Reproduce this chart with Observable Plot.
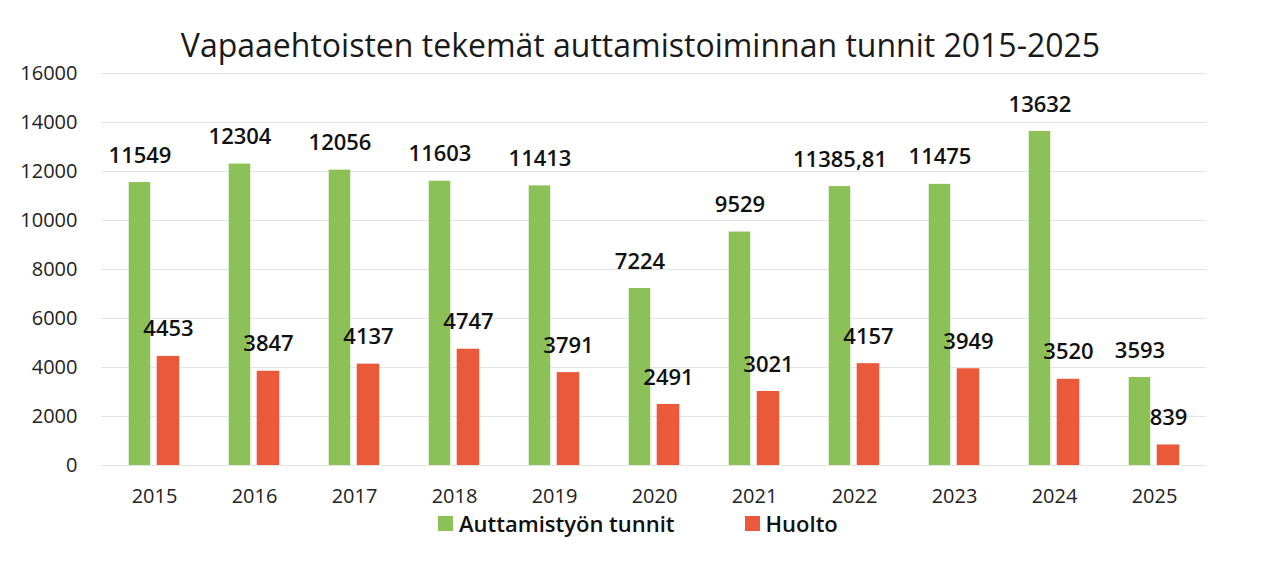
<!DOCTYPE html>
<html><head><meta charset="utf-8">
<script src="https://cdn.jsdelivr.net/npm/d3@7"></script>
<script src="https://cdn.jsdelivr.net/npm/@observablehq/plot@0.6"></script>
<style>
body{margin:0;background:#fff;font-family:"Open Sans",sans-serif;}
#wrap{width:1271px;height:563px;position:relative;overflow:hidden;background:#fff}
#title{position:absolute;left:5px;top:29px;width:1271px;text-align:center;font-size:32px;line-height:32px;color:#1a1a1a;white-space:nowrap}
#chart{position:absolute;left:0;top:52px}
#legend{position:absolute;left:438px;top:512px;display:flex;align-items:center;font-size:22px;line-height:22px;font-weight:600;color:#111;white-space:nowrap}
.sw{display:inline-block;width:15px;height:15px;margin-right:6px}
.item{display:flex;align-items:center;margin-right:70px}
</style></head><body>
<div id="wrap">
<div id="title">Vapaaehtoisten tekemät auttamistoiminnan tunnit 2015-2025</div>
<div id="chart"></div>
<div id="legend"></div>
</div>
<script>
const years = [2015, 2016, 2017, 2018, 2019, 2020, 2021, 2022, 2023, 2024, 2025];
const assistHours = [11549, 12304, 12056, 11603, 11413, 7224, 9529, 11385.81, 11475, 13632, 3593];
const maintenance = [4453, 3847, 4137, 4747, 3791, 2491, 3021, 4157, 3949, 3520, 839];
const seriesNames = ["Auttamistyön tunnit", "Huolto"];
const seriesColors = ["#8bc157", "#ea5a3a"];
const yTicks = [0, 2000, 4000, 6000, 8000, 10000, 12000, 14000, 16000];

const fmt = v => String(v).replace(".", ",");
const greenData = years.map((y, i) => ({year: y, series: seriesNames[0], value: assistHours[i]}));
const redData = years.map((y, i) => ({year: y, series: seriesNames[1], value: maintenance[i]}));

const chart = Plot.plot({
  width: 1271, height: 458,
  marginLeft: 101, marginRight: 65, marginTop: 21, marginBottom: 45,
  style: {fontFamily: '"Open Sans", sans-serif', background: "transparent"},
  x: {domain: years, padding: 0, label: null},
  y: {domain: [0, 16000], label: null},
  color: {domain: seriesNames, range: seriesColors},
  marks: [
    Plot.gridY(yTicks, {stroke: "#e4e4e4", strokeOpacity: 1}),
    Plot.axisY({ticks: yTicks, tickSize: 0, tickPadding: 24, fontSize: 20, tickFormat: d => String(d), fill: "#222", label: null}),
    Plot.axisX({tickSize: 0, tickPadding: 23, fontSize: 20, tickFormat: d => String(d), fill: "#222", label: null}),
    Plot.barY(greenData, {x: "year", y: "value", fill: "series", insetLeft: 24.7, insetRight: 53.75}),
    Plot.barY(redData, {x: "year", y: "value", fill: "series", insetLeft: 52.7, insetRight: 24.75}),
    Plot.text(greenData, {x: "year", y: "value", text: d => fmt(d.value), dx: -14.5, dy: -27, fontSize: 22, fontWeight: 600, fill: "#111"}),
    Plot.text(redData, {x: "year", y: "value", text: d => fmt(d.value), dx: 14, dy: -27, fontSize: 22, fontWeight: 600, fill: "#111"})
  ]
});
document.getElementById("chart").appendChild(chart);

const legend = document.getElementById("legend");
seriesNames.forEach((name, i) => {
  const item = document.createElement("span");
  item.className = "item";
  const sw = document.createElement("span");
  sw.className = "sw";
  sw.style.background = seriesColors[i];
  item.appendChild(sw);
  item.appendChild(document.createTextNode(name));
  legend.appendChild(item);
});
</script>
</body></html>
